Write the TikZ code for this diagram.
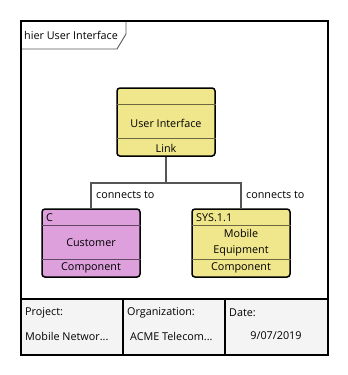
\documentclass[tikz,border=0pt]{standalone}
\usepackage{fontspec}
\setmainfont{Open Sans}
\usetikzlibrary{calc}

\definecolor{blockyellow}{HTML}{F0E68C}
\definecolor{blockplum}{HTML}{DDA0DD}
\definecolor{wireGray}{HTML}{555555}
\definecolor{tableGray}{HTML}{F4F4F4}

\begin{document}
\begin{tikzpicture}[x=1pt, y=-1pt,
    font=\fontsize{10.8}{15.5}\selectfont,
    block/.style={draw=black, line width=1.5pt, rounded corners=3pt,
        minimum width=98pt, minimum height=68pt, inner sep=0pt},
    wire/.style={draw=wireGray, line width=1.4pt},
    cell/.style={anchor=west, inner sep=0pt}]

    % --- Canvas ---
    \useasboundingbox (0,0) rectangle (348,375);
    \fill[white] (0,0) rectangle (348,375);

    % --- 1. Frame and title tab ---
    \fill[tableGray] (21,299) rectangle (328,355);
    \draw[line width=1.3pt] (21,299) -- (328,299);
    \draw[line width=1.3pt] (123,299) -- (123,355);
    \draw[line width=1.3pt] (225,299) -- (225,355);
    \draw[gray!70!black, line width=0.9pt] (21,49) -- (117,49) -- (126,34) -- (126,21);
    \node[cell] (tab) at (24,35) {hier User Interface};
    \draw[line width=2.2pt] (21,21) rectangle (328,355);

    % --- 2. Blocks ---
    \node[block, fill=blockyellow] (ui) at (166,122) {};
    \node[block, fill=blockplum] (cust) at (91,243) {};
    \node[block, fill=blockyellow] (mob) at (241,243) {};

    % compartment dividers
    \draw[blockyellow!45!black, line width=1.4pt]
        ($(ui.north west)+(0,17)$) -- ($(ui.north east)+(0,17)$)
        ($(ui.south west)+(0,-18)$) -- ($(ui.south east)+(0,-18)$);
    \foreach \b/\c in {cust/blockplum, mob/blockyellow} {
        \draw[\c!45!black, line width=1.4pt]
            ($(\b.north west)+(0,17)$) -- ($(\b.north east)+(0,17)$)
            ($(\b.south west)+(0,-18)$) -- ($(\b.south east)+(0,-18)$);
    }

    % compartment texts
    \node (uiName) at (166,123) {User Interface};
    \node (uiKind) at (166,148) {Link};
    \node[cell] (custId) at (46,218) {C};
    \node (custName) at (91,243) {Customer};
    \node (custKind) at (91,268) {Component};
    \node[cell] (mobId) at (196,218) {SYS.1.1};
    \node[align=center] (mobName) at (241,242.5) {Mobile\\Equipment};
    \node (mobKind) at (241,268) {Component};

    % --- 3. Connectors ---
    \coordinate (fork) at (166,183);
    \draw[wire] (ui.south) -- (fork);
    \draw[wire] (fork) -| (cust.north);
    \draw[wire] (fork) -| (mob.north);
    \node[cell] (lblCust) at (96,195) {connects to};
    \node[cell] (lblMob) at (246,195) {connects to};

    % --- 4. Title block ---
    \node[cell] (project) at (25,313) {Project:};
    \node[cell] (projectVal) at (25,336) {Mobile Networ...};
    \node[cell] (org) at (127,313) {Organization:};
    \node[cell] (orgVal) at (130,336) {ACME Telecom...};
    \node[cell] (date) at (229,313) {Date:};
    \node (dateVal) at (276,336) {9/07/2019};

\end{tikzpicture}
\end{document}
